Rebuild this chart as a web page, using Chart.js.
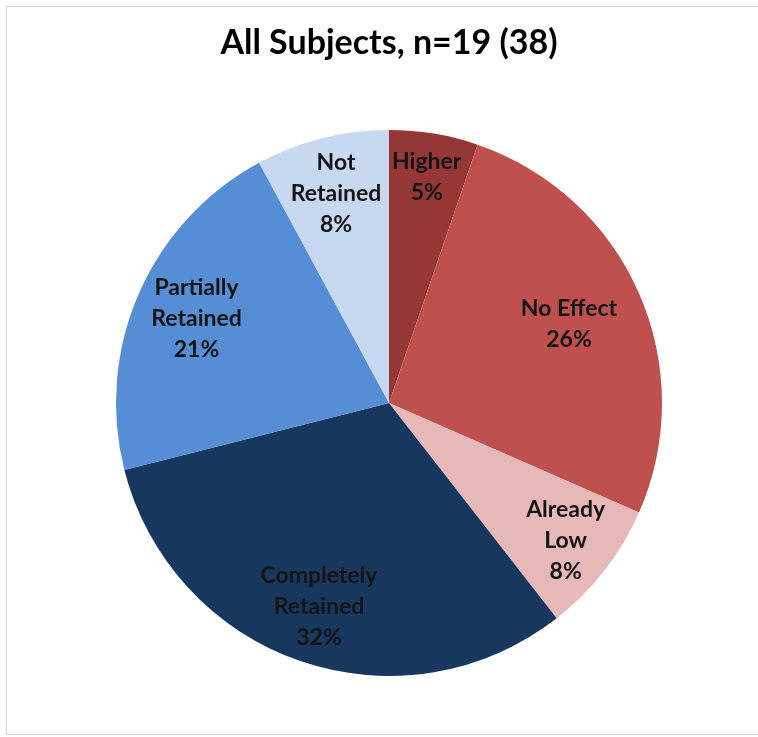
<!DOCTYPE html>
<html>
<head>
<meta charset="utf-8">
<script src="https://cdn.jsdelivr.net/npm/chart.js@4.4.1/dist/chart.umd.min.js"></script>
<style>
  html, body { margin: 0; padding: 0; background: #fff; overflow: hidden; width: 758px; height: 737px; }
  #frame { position: absolute; left: 6px; top: 6px; width: 752px; height: 729px; border: 1px solid #d4d4d4; border-right: none; box-sizing: border-box; }
  #wrap { position: absolute; left: 0; top: 0; width: 758px; height: 737px; }
</style>
</head>
<body>
<div id="frame"></div>
<div id="wrap"><canvas id="chart" width="758" height="737"></canvas></div>
<script>
// counts out of 38 (19 subjects, two measurements each)
const categories = ['Higher', 'No Effect', 'Already Low', 'Completely Retained', 'Partially Retained', 'Not Retained'];
const counts = [2, 10, 3, 12, 8, 3];
const percentLabels = ['5%', '26%', '8%', '32%', '21%', '8%'];
// how each label is split over lines
const labelLines = [
  ['Higher'],
  ['No Effect'],
  ['Already', 'Low'],
  ['Completely', 'Retained'],
  ['Partially', 'Retained'],
  ['Not', 'Retained']
];

const colors = ['#953735', '#c0504d', '#e6b9b8', '#17375e', '#558ed5', '#c6d9f1'];

// draws the in-slice labels at a fraction of the radius, like Excel does
const sliceLabels = {
  id: 'sliceLabels',
  afterDatasetsDraw(chart, args, opts) {
    const ctx = chart.ctx;
    const meta = chart.getDatasetMeta(0);
    ctx.save();
    ctx.font = opts.font;
    ctx.fillStyle = opts.color;
    ctx.textAlign = 'center';
    ctx.textBaseline = 'middle';
    meta.data.forEach((arc, i) => {
      const p = arc.getProps(['x', 'y', 'startAngle', 'endAngle', 'outerRadius'], true);
      const mid = (p.startAngle + p.endAngle) / 2;
      const r = p.outerRadius * opts.radius[i];
      const cx = p.x + Math.cos(mid) * r;
      const cy = p.y + Math.sin(mid) * r;
      const lines = labelLines[i].concat([percentLabels[i]]);
      const top = cy - (lines.length - 1) * opts.lineHeight / 2;
      lines.forEach((t, j) => ctx.fillText(t, cx, top + j * opts.lineHeight));
    });
    ctx.restore();
  }
};

new Chart(document.getElementById('chart').getContext('2d'), {
  type: 'pie',
  data: {
    labels: categories,
    datasets: [{
      data: counts,
      backgroundColor: colors,
      borderWidth: 0
    }]
  },
  options: {
    responsive: false,
    animation: false,
    layout: { padding: { left: 116, right: 96, top: 0, bottom: 61 } },
    plugins: {
      legend: { display: false },
      tooltip: { enabled: false },
      title: {
        display: true,
        text: 'All Subjects, n=19 (38)',
        color: '#000',
        font: { family: 'Lato', size: 34, weight: 'bold', lineHeight: 1.2 },
        padding: { top: 23, bottom: 66 }
      },
      sliceLabels: {
        font: 'bold 23px Lato',
        color: '#141414',
        lineHeight: 31,
        radius: [0.84, 0.72, 0.82, 0.79, 0.77, 0.79]
      }
    }
  },
  plugins: [sliceLabels]
});
</script>
</body>
</html>
